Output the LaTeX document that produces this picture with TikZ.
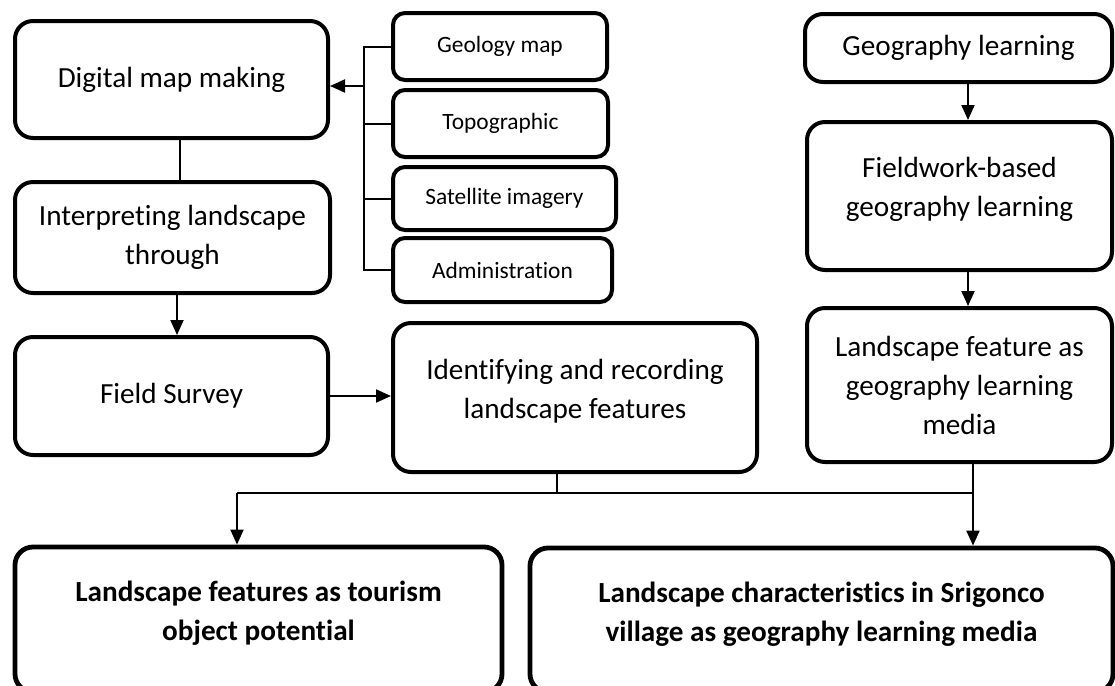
\documentclass[tikz,border=0pt]{standalone}
\usepackage{fontspec}
\setmainfont{Carlito}[RawFeature={-liga;-clig;-dlig;-calt}]
\usetikzlibrary{arrows.meta}

\begin{document}
\begin{tikzpicture}
  [x=0.5pt,y=-0.5pt,
   box/.style={draw,line width=2pt,rounded corners=9pt,align=center,inner sep=0pt,
     font=\fontsize{14.6}{19.5}\selectfont},
   small/.style={box,rounded corners=6pt,font=\fontsize{11.7}{14}\selectfont},
   link/.style={line width=1pt},
   arr/.style={link,-{Triangle[width=6.5pt,length=7.5pt]}}]
  \useasboundingbox (0,0) rectangle (1115,686);

  % left column
  \node[box,minimum width=156.5pt,minimum height=58.5pt] (ndig) at (171.5,79.5) {Digital map making};
  \node[box,minimum width=157.5pt,minimum height=55.5pt] (nint) at (172.5,237.5) {Interpreting landscape\\through};
  \node[box,minimum width=156.5pt,minimum height=59pt] (nfield) at (171.5,396) {Field Survey};

  % map sources
  \node[small,minimum width=107pt,minimum height=33.5pt] (ngeo) at (500,46.5) {Geology map};
  \node[small,minimum width=107.5pt,minimum height=33.5pt] (ntopo) at (500.5,123.5) {Topographic};
  \node[small,minimum width=111.5pt,minimum height=31.5pt] (nsat) at (504.5,198.5) {Satellite imagery};
  \node[small,minimum width=109.5pt,minimum height=32pt] (nadm) at (502.5,270) {Administration};

  \node[box,minimum width=182pt,minimum height=74.5pt] (nid) at (575,397.5) {Identifying and recording\\landscape features\\[-11pt]\mbox{}};

  % right column
  \node[box,minimum width=153.5pt,minimum height=34pt] (nglearn) at (958.5,48) {Geography learning};
  \node[box,minimum width=152.5pt,minimum height=74pt] (nfwork) at (959.5,196) {Fieldwork-based\\geography learning\\[-10pt]\mbox{}};
  \node[box,minimum width=152.5pt,minimum height=77pt] (nfeat) at (959.5,385) {Landscape feature as\\geography learning\\media};

  % results
  \node[box,line width=2.4pt,minimum width=243.5pt,minimum height=72.5pt] (ntour) at (258.5,619.5)
    {\textbf{Landscape features as tourism}\\\textbf{object potential}\\[-11pt]\mbox{}};
  \node[box,line width=2.4pt,minimum width=291.5pt,minimum height=72pt] (nvill) at (821.5,620)
    {\textbf{Landscape characteristics in Srigonco}\\\textbf{village as geography learning media}\\[-11pt]\mbox{}};

  \coordinate (cjoin) at (364,86);
  \coordinate (cmid) at (557,493);
  \coordinate (cleft) at (237,493);
  \coordinate (cright) at (973,493);

  \draw[link] (ndig.south -| 180,0) -- (nint.north -| 180,0);
  \draw[arr] (nint.south -| 177,0) -- (nfield.north -| 177,0);
  \draw[arr] (nfield.east) -- (nfield.east -| nid.west);

  \draw[link] (ngeo.west) -| (cjoin) |- (nadm.west);
  \foreach \src in {ntopo,nsat}
    \draw[link] (\src.west) -- (\src.west -| cjoin);
  \draw[arr] (cjoin) -- (cjoin -| ndig.east);

  \foreach \from/\to in {nglearn/nfwork,nfwork/nfeat}
    \draw[arr] (\from.south -| 968,0) -- (\to.north -| 968,0);

  \draw[link] (cmid |- nid.south) -- (cmid);
  \draw[link] (cleft) -- (cright);
  \draw[link] (cright |- nfeat.south) -- (cright);
  \draw[arr] (cleft) -- (cleft |- ntour.north);
  \draw[arr] (cright) -- (cright |- nvill.north);
\end{tikzpicture}
\end{document}
